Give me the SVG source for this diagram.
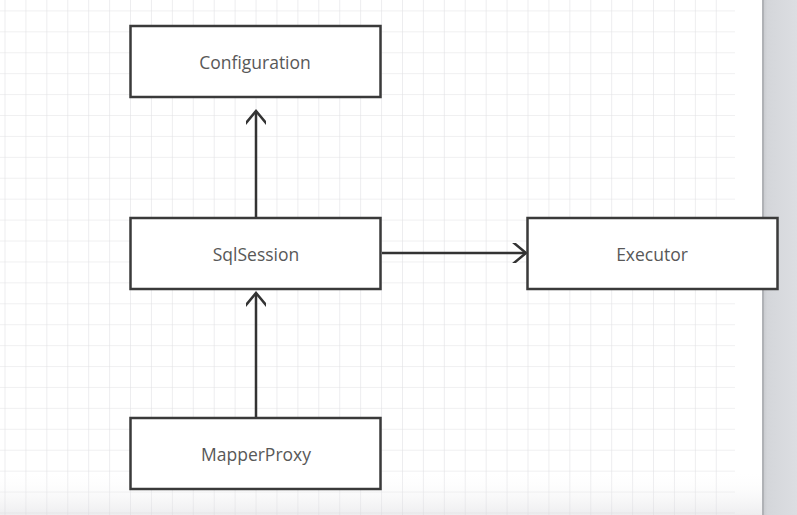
<svg xmlns="http://www.w3.org/2000/svg" width="797" height="515" viewBox="0 0 797 515">
  <defs>
    <pattern id="grid" x="4.5" y="10.4" width="20.92" height="20.92" patternUnits="userSpaceOnUse">
      <path d="M0 0H20.92M0 0V20.92" fill="none" stroke="#e2e2e4" stroke-width="1.2"/>
    </pattern>
    <linearGradient id="side" x1="0" y1="0" x2="1" y2="0">
      <stop offset="0" stop-color="#c4c6ca"/>
      <stop offset="0.15" stop-color="#d4d6da"/>
      <stop offset="1" stop-color="#dcdee2"/>
    </linearGradient>
    <linearGradient id="bottom" x1="0" y1="0" x2="0" y2="1">
      <stop offset="0" stop-color="#ffffff" stop-opacity="0"/>
      <stop offset="1" stop-color="#d8d8dc" stop-opacity="0.45"/>
    </linearGradient>
    <marker id="open" viewBox="0 0 20 20" refX="16" refY="10" markerWidth="20" markerHeight="20" markerUnits="userSpaceOnUse" orient="auto">
      <path d="M1 -2.5 L16 10 L1 22.5" fill="none" stroke="#333" stroke-width="2.5"/>
    </marker>
    <style>
      .box { fill: #ffffff; stroke: #3a3a3a; stroke-width: 2.5; }
      .lbl { font-family: "Open Sans", "Noto Sans", "DejaVu Sans", sans-serif; font-size: 17.5px; fill: #585858; text-anchor: middle; dominant-baseline: central; }
      .edge { fill: none; stroke: #333; stroke-width: 2.5; }
    </style>
  </defs>
  <rect x="0" y="0" width="797" height="515" fill="#ffffff"/>
  <rect x="0" y="0" width="735" height="515" fill="url(#grid)"/>
  <rect x="0" y="470" width="763" height="45" fill="url(#bottom)"/>
  <rect x="762" y="0" width="35" height="515" fill="url(#side)"/>
  <line x1="763" y1="0" x2="763" y2="515" stroke="#b0b2b6" stroke-width="2"/>

  <g id="connectors">
    <path class="edge" d="M256 217 V111" marker-end="url(#open)"/>
    <path class="edge" d="M256 417 V293" marker-end="url(#open)"/>
    <path class="edge" d="M382 253 H526" marker-end="url(#open)"/>
  </g>

  <g id="configuration">
    <rect class="box" x="130.5" y="26" width="250" height="71"/>
    <text class="lbl" x="255" y="62">Configuration</text>
  </g>
  <g id="sqlsession">
    <rect class="box" x="130.5" y="218" width="250" height="71"/>
    <text class="lbl" x="256" y="254">SqlSession</text>
  </g>
  <g id="executor">
    <rect class="box" x="527.5" y="218" width="250" height="71"/>
    <text class="lbl" x="652" y="254">Executor</text>
  </g>
  <g id="mapperproxy">
    <rect class="box" x="130.5" y="418" width="250" height="71"/>
    <text class="lbl" x="256" y="454">MapperProxy</text>
  </g>
</svg>
